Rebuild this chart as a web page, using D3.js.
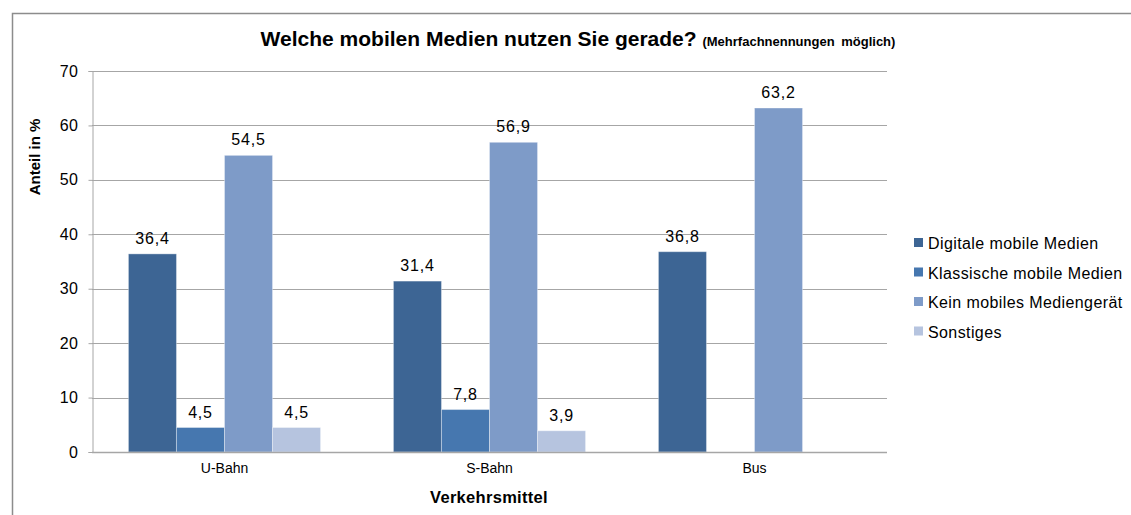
<!DOCTYPE html>
<html>
<head>
<meta charset="utf-8">
<script src="https://cdn.jsdelivr.net/npm/d3@7"></script>
<style>
  body { margin: 0; background: #fff; }
  text { font-family: "Liberation Sans", Arial, sans-serif; fill: #000; }
</style>
</head>
<body>
<svg width="1131" height="515"></svg>
<script>
const categories = ['U-Bahn', 'S-Bahn', 'Bus'];
const seriesNames = ['Digitale mobile Medien', 'Klassische mobile Medien', 'Kein mobiles Mediengerät', 'Sonstiges'];
const digital = [36.4, 31.4, 36.8];
const klassisch = [4.5, 7.8, null];
const kein = [54.5, 56.9, 63.2];
const sonstiges = [4.5, 3.9, null];
const yTicks = [0, 10, 20, 30, 40, 50, 60, 70];
const colors = ['#3d6594', '#4677af', '#7e9bc8', '#b6c4df'];

const seriesValues = [digital, klassisch, kein, sonstiges];
const rows = categories.map((c, i) => ({
  cat: c,
  vals: seriesValues.map((s, j) => ({ key: seriesNames[j], v: s[i] }))
}));

const svg = d3.select('svg');
const plotL = 92, plotR = 887, plotT = 71, plotB = 452;

// outer border (chart is cropped on right/bottom)
svg.append('path').attr('d', 'M12.5,515 V13.5 H1131')
  .attr('fill', 'none').attr('stroke', '#8c8c8c').attr('stroke-width', 1.5);

const x = d3.scaleBand().domain(categories).range([plotL, plotR])
  .paddingInner(0.275).paddingOuter(0.1375);
const x1 = d3.scaleBand().domain(seriesNames).range([0, x.bandwidth()]);
const y = d3.scaleLinear().domain([0, 70]).range([plotB, plotT]);

// gridlines
svg.append('g').selectAll('line').data(yTicks.filter(t => t > 0)).enter().append('line')
  .attr('x1', plotL).attr('x2', plotR)
  .attr('y1', d => Math.round(y(d)) + 0.5).attr('y2', d => Math.round(y(d)) + 0.5)
  .attr('stroke', '#a6a6a6');

// y axis
const yAxis = svg.append('g').attr('transform', `translate(${plotL + 0.5},0)`)
  .call(d3.axisLeft(y).tickValues(yTicks).tickSize(4).tickPadding(10));
yAxis.select('.domain').attr('stroke', '#a6a6a6');
yAxis.selectAll('.tick line').attr('stroke', '#a6a6a6');
yAxis.selectAll('.tick text').attr('font-size', 16).attr('letter-spacing', 0.5)
  .attr('font-family', '"Liberation Sans", Arial, sans-serif');

// bars
const groups = svg.append('g').selectAll('g').data(rows).enter().append('g')
  .attr('transform', d => `translate(${x(d.cat)},0)`);
groups.selectAll('rect').data(d => d.vals.filter(v => v.v != null)).enter().append('rect')
  .attr('x', d => x1(d.key)).attr('width', x1.bandwidth())
  .attr('y', d => y(d.v)).attr('height', d => plotB - y(d.v))
  .attr('fill', d => colors[seriesNames.indexOf(d.key)])
  .attr('stroke', 'rgba(255,255,255,0.35)').attr('stroke-width', 1);
groups.selectAll('text').data(d => d.vals.filter(v => v.v != null)).enter().append('text')
  .attr('x', d => x1(d.key) + x1.bandwidth() / 2).attr('y', d => y(d.v) - 10)
  .attr('text-anchor', 'middle').attr('font-size', 16).attr('letter-spacing', 0.8)
  .text(d => d3.format('.1f')(d.v).replace('.', ','));

// x axis
const xAxis = svg.append('g').attr('transform', `translate(0,${plotB + 0.5})`)
  .call(d3.axisBottom(x).tickSize(0).tickPadding(11));
xAxis.select('.domain').attr('stroke', '#a6a6a6').attr('stroke-width', 1.5)
  .attr('d', `M${plotL},0H${plotR}`);
xAxis.selectAll('.tick text').attr('font-size', 14)
  .attr('font-family', '"Liberation Sans Narrow", "Arial Narrow", "Liberation Sans", sans-serif');

// axis titles
svg.append('text').attr('x', 489).attr('y', 503).attr('text-anchor', 'middle')
  .attr('font-size', 16.5).attr('font-weight', 'bold').attr('letter-spacing', 0.3).text('Verkehrsmittel');
svg.append('text').attr('transform', 'translate(40,157) rotate(-90)').attr('text-anchor', 'middle')
  .attr('font-size', 15).attr('font-weight', 'bold').text('Anteil in %');

// title
const title = svg.append('text').attr('x', 578).attr('y', 46).attr('text-anchor', 'middle')
  .attr('font-weight', 'bold');
title.append('tspan').attr('font-size', 21).text('Welche mobilen Medien nutzen Sie gerade? ');
title.append('tspan').attr('font-size', 13).attr('word-spacing', 3).text('(Mehrfachnennungen möglich)');

// legend
const legend = svg.append('g').selectAll('g').data(seriesNames).enter().append('g')
  .attr('transform', (d, i) => `translate(914,${243 + i * 29.5})`);
legend.append('rect').attr('x', 0).attr('y', -5).attr('width', 9).attr('height', 9)
  .attr('fill', (d, i) => colors[i]);
legend.append('text').attr('x', 14).attr('y', 6).attr('font-size', 16).attr('letter-spacing', 0.4).text(d => d);
</script>
</body>
</html>
